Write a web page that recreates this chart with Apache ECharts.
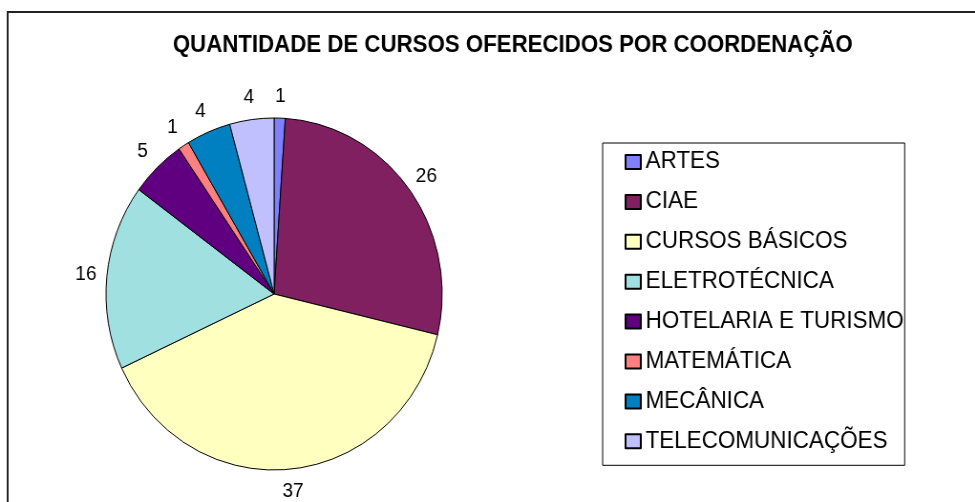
<!DOCTYPE html>
<html>
<head>
<meta charset="utf-8">
<script src="https://cdn.jsdelivr.net/npm/echarts@6/dist/echarts.min.js"></script>
<style>
html, body { margin:0; padding:0; background:#fff; overflow:hidden; }
/* o grafico original foi um pouco achatado na horizontal */
#chart { width:1021px; height:502px; transform:scaleX(0.955); transform-origin:0 0; }
</style>
</head>
<body>
<div id="chart"></div>
<script>
var titulo = 'QUANTIDADE DE CURSOS OFERECIDOS POR COORDENAÇÃO';
var coordenacoes = ['ARTES', 'CIAE', 'CURSOS BÁSICOS', 'ELETROTÉCNICA', 'HOTELARIA E TURISMO', 'MATEMÁTICA', 'MECÂNICA', 'TELECOMUNICAÇÕES'];
var cursos = [1, 26, 37, 16, 5, 1, 4, 4];
var cores = ['#8080FF', '#802060', '#FFFFC0', '#A0E0E0', '#600080', '#FF8080', '#0080C0', '#C0C0FF'];

var fonte = '"Liberation Sans", Arial, sans-serif';

var dados = [];
for (var i = 0; i < coordenacoes.length; i++) {
  dados.push({ name: coordenacoes[i], value: cursos[i] });
}

var chart = echarts.init(document.getElementById('chart'));
var option = {
  backgroundColor: '#fff',
  animation: false,
  color: cores,
  title: {
    text: titulo,
    left: 176,
    top: 29,
    textStyle: { fontFamily: fonte, fontSize: 23.3, fontWeight: 'bold', color: '#000' }
  },
  graphic: [{
    type: 'rect',
    shape: { x: 8, y: 12, width: 1200, height: 700 },
    style: { fill: 'none', stroke: '#222', lineWidth: 2 },
    silent: true
  }],
  legend: {
    orient: 'vertical',
    left: 631,
    top: 143,
    padding: [7, 1, 12, 23],
    itemGap: 15.9,
    itemWidth: 16,
    itemHeight: 14,
    icon: 'rect',
    borderColor: '#000',
    borderWidth: 1,
    textStyle: { fontFamily: fonte, fontSize: 23.5, color: '#000' },
    data: coordenacoes
  },
  series: [{
    name: 'Cursos',
    type: 'pie',
    center: [287, 294],
    radius: 176,
    startAngle: 90,
    clockwise: true,
    avoidLabelOverlap: false,
    itemStyle: { borderColor: '#000', borderWidth: 1 },
    label: {
      show: true,
      position: 'outside',
      formatter: '{c}',
      distanceToLabelLine: 0,
      fontFamily: fonte,
      fontSize: 20,
      color: '#000'
    },
    labelLine: { show: false, length: 22, length2: 0 },
    labelLayout: function (p) {
      // centraliza o rotulo na ponta da linha
      var w = p.labelRect.width;
      var dx = 0;
      if (p.align === 'left') dx = -w / 2;
      if (p.align === 'right') dx = w / 2;
      return { dx: dx };
    },
    emphasis: { disabled: true },
    data: dados
  }]
};
chart.setOption(option);
</script>
</body>
</html>
